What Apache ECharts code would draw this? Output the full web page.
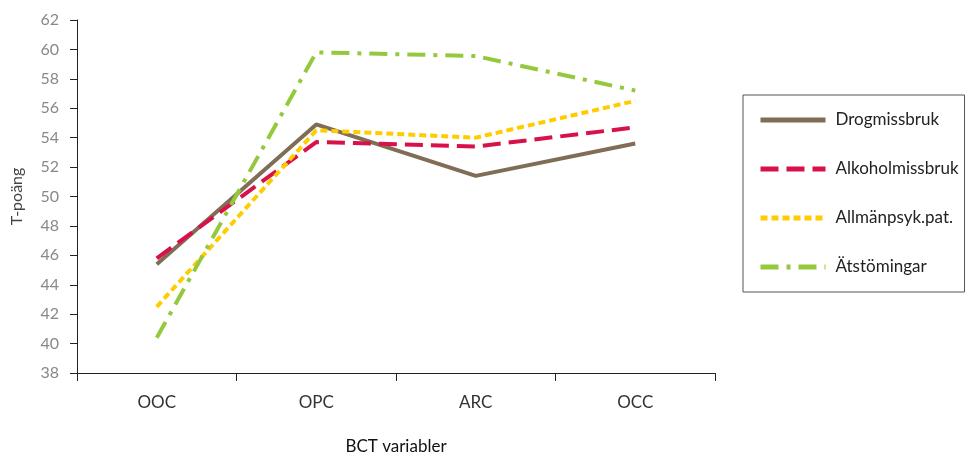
<!DOCTYPE html>
<html>
<head>
<meta charset="utf-8">
<script src="https://cdn.jsdelivr.net/npm/echarts@6/dist/echarts.min.js"></script>
<style>html,body{margin:0;padding:0;background:#fff}#c{width:967px;height:456px}</style>
</head>
<body>
<div id="c"></div>
<script>
const categories = ['OOC', 'OPC', 'ARC', 'OCC'];
const drogmissbruk = [45.4, 54.9, 51.4, 53.6];
const alkoholmissbruk = [45.8, 53.7, 53.4, 54.7];
const allmanpsyk = [42.5, 54.5, 54.0, 56.5];
const atstorningar = [40.4, 59.8, 59.55, 57.2];
const seriesNames = ['Drogmissbruk', 'Alkoholmissbruk', 'Allmänpsyk.pat.', 'Ätstömingar'];
const yTicks = [38, 40, 42, 44, 46, 48, 50, 52, 54, 56, 58, 60, 62];

const font = 'Lato, "Open Sans", sans-serif';
const chart = echarts.init(document.getElementById('c'), null, {renderer: 'canvas'});
function mk(name, data, color, type) {
  return {
    name: name, type: 'line', data: data, symbol: 'none',
    lineStyle: {color: color, width: 4, type: type, cap: 'butt'},
    itemStyle: {color: color}
  };
}
chart.setOption({
  animation: false,
  grid: {left: 77, right: 252, top: 20, bottom: 83, containLabel: false, outerBoundsMode: 'none'},
  xAxis: {
    type: 'category', data: categories, boundaryGap: true,
    name: 'BCT variabler', nameLocation: 'middle', nameGap: 65,
    nameTextStyle: {color: '#111', fontSize: 17, fontFamily: font},
    axisLine: {lineStyle: {color: '#222', width: 1}},
    axisTick: {show: true, length: 8, lineStyle: {color: '#222'}},
    axisLabel: {color: '#333', fontSize: 17, fontFamily: font, margin: 21},
    splitLine: {show: false}
  },
  yAxis: {
    type: 'value', min: 38, max: 62, interval: 2,
    name: 'T-poäng', nameLocation: 'middle', nameGap: 52, nameRotate: 90,
    nameTextStyle: {color: '#444', fontSize: 16, fontFamily: font},
    axisLine: {show: true, lineStyle: {color: '#222', width: 1}},
    axisTick: {show: true, length: 7, lineStyle: {color: '#222'}},
    axisLabel: {color: '#888', fontSize: 16, fontFamily: font, margin: 18,
      formatter: v => yTicks.includes(v) ? String(v) : ''},
    splitLine: {show: false}
  },
  legend: {
    orient: 'vertical', left: 743, top: 95,
    padding: [15, 6, 15, 15],
    borderColor: '#555', borderWidth: 1,
    itemWidth: 65, itemHeight: 20, itemGap: 29,
    itemStyle: {opacity: 0},
    lineStyle: {width: 5},
    textStyle: {color: '#222', fontSize: 17, fontFamily: font, padding: [0, 0, 0, 5], lineHeight: 20},
    data: seriesNames
  },
  series: [
    mk(seriesNames[0], drogmissbruk, '#7f6d55', 'solid'),
    mk(seriesNames[1], alkoholmissbruk, '#d9114a', [18, 8]),
    mk(seriesNames[2], allmanpsyk, '#ffcc00', [7, 4]),
    mk(seriesNames[3], atstorningar, '#95c93d', [18, 8, 4, 8])
  ]
});
</script>
</body>
</html>
